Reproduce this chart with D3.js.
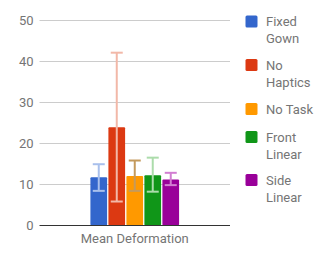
<!DOCTYPE html>
<html>
<head>
<meta charset="utf-8">
<script src="https://cdn.jsdelivr.net/npm/d3@7"></script>
<style>
  body { margin: 0; background: #fff; }
  text { font-family: Roboto, Arial, sans-serif; }
</style>
</head>
<body>
<div id="chart"></div>
<script>
// data
var category = "Mean Deformation";
var seriesNames = ["Fixed Gown", "No Haptics", "No Task", "Front Linear", "Side Linear"];
var legendLines = [["Fixed", "Gown"], ["No", "Haptics"], ["No Task"], ["Front", "Linear"], ["Side", "Linear"]];
var means = [11.7, 23.9, 12.0, 12.2, 11.2];
var errLow = [8.4, 5.8, 8.4, 8.2, 9.8];
var errHigh = [14.9, 42.1, 15.8, 16.5, 12.8];
var yTicks = [0, 10, 20, 30, 40, 50];

var barColors = ["#3366cc", "#dc3912", "#ff9900", "#109618", "#990099"];
var errColors = ["#a9c0ec", "#f2b8a8", "#c49a5c", "#acdcab", "#d27ed2"];

var canvasWidth = 336, canvasHeight = 259;
var plotLeft = 39.5, plotRight = 230, plotTop = 20.3, plotBottom = 225.3;

var svg = d3.select("#chart").append("svg")
    .attr("width", canvasWidth)
    .attr("height", canvasHeight)
    .attr("viewBox", "0 0 " + canvasWidth + " " + canvasHeight);

var y = d3.scaleLinear().domain([0, 50]).range([plotBottom, plotTop]);

var xOuter = d3.scaleBand().domain([category]).range([plotLeft, plotRight]).paddingInner(0).paddingOuter(0.574);
var xInner = d3.scaleBand().domain(seriesNames).range([0, xOuter.bandwidth()]).paddingInner(0.072).paddingOuter(0);

// gridlines
svg.selectAll("line.grid")
    .data(yTicks.filter(function(d) { return d > 0; }))
    .enter().append("line")
    .attr("class", "grid")
    .attr("x1", plotLeft).attr("x2", plotRight)
    .attr("y1", function(d) { return Math.round(y(d)) + 0.5; })
    .attr("y2", function(d) { return Math.round(y(d)) + 0.5; })
    .attr("stroke", "#cccccc")
    .attr("stroke-width", 1);

// y tick labels
svg.selectAll("text.ytick")
    .data(yTicks)
    .enter().append("text")
    .attr("class", "ytick")
    .attr("x", 33.5)
    .attr("y", function(d) { return y(d) + 4.5; })
    .attr("text-anchor", "end")
    .attr("font-size", 13)
    .attr("fill", "#757575")
    .text(function(d) { return d; });

var idx = d3.range(seriesNames.length);
var g = svg.append("g").attr("transform", "translate(" + xOuter(category) + ",0)");

// bars
g.selectAll("rect.bar")
    .data(idx)
    .enter().append("rect")
    .attr("class", "bar")
    .attr("x", function(i) { return xInner(seriesNames[i]); })
    .attr("y", function(i) { return y(means[i]); })
    .attr("width", xInner.bandwidth())
    .attr("height", function(i) { return y(0) - y(means[i]); })
    .attr("rx", 1)
    .attr("fill", function(i) { return barColors[i]; });

// error bars
var capW = 12;
var err = g.selectAll("g.err").data(idx).enter().append("g")
    .attr("class", "err")
    .attr("stroke", function(i) { return errColors[i]; })
    .attr("stroke-width", 2);
err.append("line")
    .attr("x1", function(i) { return xInner(seriesNames[i]) + xInner.bandwidth() / 2; })
    .attr("x2", function(i) { return xInner(seriesNames[i]) + xInner.bandwidth() / 2; })
    .attr("y1", function(i) { return y(errLow[i]); })
    .attr("y2", function(i) { return y(errHigh[i]); });
[errLow, errHigh].forEach(function(arr) {
    err.append("line")
        .attr("x1", function(i) { return xInner(seriesNames[i]) + xInner.bandwidth() / 2 - capW / 2; })
        .attr("x2", function(i) { return xInner(seriesNames[i]) + xInner.bandwidth() / 2 + capW / 2; })
        .attr("y1", function(i) { return y(arr[i]); })
        .attr("y2", function(i) { return y(arr[i]); });
});

// baseline
svg.append("line")
    .attr("x1", plotLeft).attr("x2", plotRight)
    .attr("y1", Math.round(y(0)) + 0.5).attr("y2", Math.round(y(0)) + 0.5)
    .attr("stroke", "#333333")
    .attr("stroke-width", 1);

// x label
svg.append("text")
    .attr("x", xOuter(category) + xOuter.bandwidth() / 2)
    .attr("y", 243)
    .attr("text-anchor", "middle")
    .attr("font-size", 13)
    .attr("fill", "#757575")
    .text(category);

// legend
var legendY = [21.5, 65, 109, 137, 180];
var leg = svg.selectAll("g.legend").data(idx).enter().append("g")
    .attr("class", "legend")
    .attr("transform", function(i) { return "translate(245.5," + legendY[i] + ")"; });
leg.append("rect")
    .attr("x", 0).attr("y", -6)
    .attr("width", 12).attr("height", 12)
    .attr("rx", 1.5)
    .attr("fill", function(i) { return barColors[i]; });
leg.each(function(i) {
    var t = d3.select(this).append("text")
        .attr("x", 20.5)
        .attr("y", 4.5)
        .attr("font-size", 13)
        .attr("fill", "#757575");
    legendLines[i].forEach(function(line, k) {
        t.append("tspan").attr("x", 20.5).attr("dy", k === 0 ? 0 : 17).text(line);
    });
});
</script>
</body>
</html>
